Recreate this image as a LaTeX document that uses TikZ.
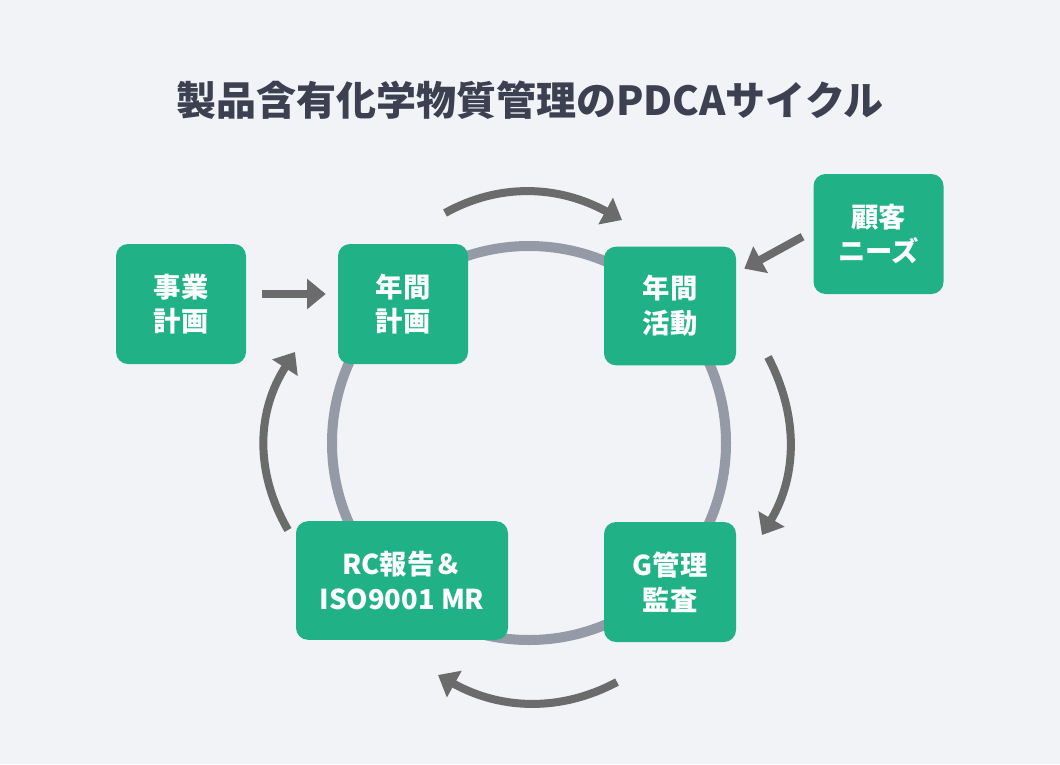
\documentclass[tikz,border=0pt]{standalone}
\usepackage{fontspec}
\setmainfont{Noto Sans CJK JP}
\usepackage{xcolor}
\usetikzlibrary{arrows.meta}
\definecolor{bgpaper}{HTML}{F2F3F7}
\definecolor{boxgreen}{HTML}{20B286}
\definecolor{ringgray}{HTML}{959AA7}
\definecolor{arrowgray}{HTML}{6B6B6B}
\definecolor{titlecol}{HTML}{3D4050}

\begin{document}
\begin{tikzpicture}[x=0.75pt,y=-0.75pt,
  box/.style={fill=boxgreen, rounded corners=9pt, text=white, align=center, inner sep=0pt,
    minimum width=97.5pt, minimum height=90pt, font=\fontsize{20.5}{26}\selectfont\bfseries},
  flow/.style={draw=arrowgray, line width=6pt, -{Triangle[length=14pt,width=22pt]}}]
  \fill [bgpaper] (0,0) rectangle (1060,764);
  \useasboundingbox (0,0) rectangle (1060,764);
  \node [text=titlecol, font=\fontsize{30}{35}\selectfont\bfseries] (title) at (530,100) {製品含有化学物質管理のPDCAサイクル};
  \draw [ringgray, line width=7.5pt] (529,443) circle [radius=147.75pt];
  \node [box] (biz) at (181,304) {事業\\計画};
  \node [box] (plan) at (403,304) {年間\\計画};
  \node [box, minimum width=99pt, minimum height=89pt] (act) at (670,306) {年間\\活動};
  \node [box] (cust) at (878.5,234) {顧客\\ニーズ};
  \node [box, minimum width=159pt, minimum height=89pt] (rc) at (402,580.5) {RC報告＆\\ISO9001 MR};
  \node [box, minimum width=99pt] (audit) at (670,582) {G管理\\監査};
  \coordinate (pd1) at (445,213);
  \coordinate (pd2) at (622,220);
  \coordinate (dc1) at (768,357);
  \coordinate (dc2) at (762,535);
  \coordinate (ca1) at (617,682);
  \coordinate (ca2) at (438,675);
  \coordinate (ap1) at (288,530);
  \coordinate (ap2) at (295,352);
  \draw [flow] (pd1) .. controls (499,183) and (558,185) .. (pd2);
  \draw [flow] (dc1) .. controls (799,416) and (797,476) .. (dc2);
  \draw [flow] (ca1) .. controls (561,712) and (501,710) .. (ca2);
  \draw [flow] (ap1) .. controls (254,471) and (257,411) .. (ap2);
  \draw [flow, shorten <=12pt, shorten >=9pt] ([yshift=7.5pt]biz.east) -- ([yshift=7.5pt]plan.west);
  \draw [flow] ([xshift=-8pt,yshift=-2pt]cust.west) -- ([xshift=6pt,yshift=28pt]act.east);
\end{tikzpicture}
\end{document}
